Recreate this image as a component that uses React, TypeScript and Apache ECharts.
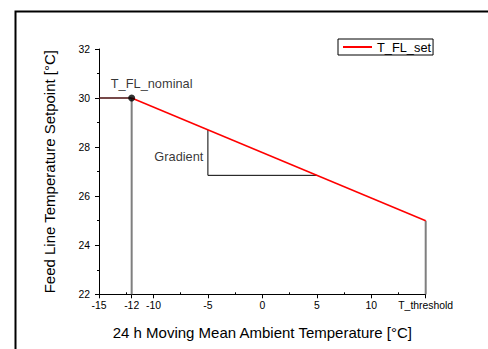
import React, { useEffect, useRef } from "react";
import * as echarts from "echarts";

// Heating curve: feed line setpoint versus 24 h moving mean ambient temperature
const xMajorTicks = [-15, -12, -10, -5, 0, 5, 10, 15];
const xMinorTicks = [-12.5, -7.5, -2.5, 2.5, 7.5, 12.5];
const T_THRESHOLD = 15;

const setpointCurve: [number, number][] = [
  [-12, 30],
  [15, 25],
];
const nominalPlateau: [number, number][] = [
  [-15, 30],
  [-12, 30],
];
const nominalDrop: [number, number][] = [
  [-12, 30],
  [-12, 22],
];
const thresholdDrop: [number, number][] = [
  [15, 25],
  [15, 22],
];
const gradientTriangle: [number, number][] = [
  [-5, 28.7],
  [-5, 26.85],
  [5, 26.85],
];
const nominalPoint: [number, number][] = [[-12, 30]];
const gradientLabelAnchor: [number, number][] = [[-5, 27.62]];

const FONT = "'Liberation Sans', Arial, sans-serif";

export default function App() {
  const ref = useRef<HTMLDivElement>(null);

  useEffect(() => {
    if (!ref.current) return;
    const chart = echarts.init(ref.current, undefined, { renderer: "svg" });

    chart.setOption({
      animation: false,
      backgroundColor: "#fff",
      textStyle: { fontFamily: FONT },
      grid: { left: 99, right: 62.3, top: 49, bottom: 54.7, containLabel: false },
      legend: {
        data: ["T_FL_set"],
        left: 338,
        top: 39,
        orient: "horizontal",
        icon: "rect",
        itemWidth: 29,
        itemHeight: 2,
        padding: [1, 2, 1, 5],
        borderColor: "#000",
        borderWidth: 1,
        borderRadius: 0,
        textStyle: { fontSize: 12.8, color: "#000", fontFamily: FONT, lineHeight: 14 },
      },
      graphic: [
        {
          type: "rect",
          left: 13,
          top: 9,
          shape: { width: 520, height: 400 },
          style: { fill: "none", stroke: "#000", lineWidth: 2 },
          silent: true,
        },
      ],
      xAxis: [
        {
          type: "value",
          min: -15,
          max: 15,
          interval: 5,
          name: "24 h Moving Mean Ambient Temperature [°C]",
          nameLocation: "middle",
          nameGap: 31,
          nameTextStyle: { fontSize: 15, color: "#000", fontFamily: FONT },
          splitLine: { show: false },
          axisLine: { show: true, onZero: false, lineStyle: { color: "#000", width: 1 } },
          axisTick: {
            show: true,
            length: 4,
            customValues: xMajorTicks,
            lineStyle: { color: "#000", width: 1 },
          },
          axisLabel: {
            show: true,
            customValues: xMajorTicks,
            hideOverlap: false,
            margin: 6.5,
            fontSize: 10.4,
            color: "#000",
            fontFamily: FONT,
            formatter: (v: number) => (v === T_THRESHOLD ? "T_threshold" : String(v)),
          },
        },
        {
          type: "value",
          min: -15,
          max: 15,
          interval: 2.5,
          position: "bottom",
          splitLine: { show: false },
          axisLine: { show: false },
          axisLabel: { show: false },
          axisTick: {
            show: true,
            inside: true,
            length: 2,
            customValues: xMinorTicks,
            lineStyle: { color: "#000", width: 1 },
          },
        },
      ],
      yAxis: {
        type: "value",
        min: 22,
        max: 32,
        interval: 2,
        name: "Feed Line Temperature Setpoint [°C]",
        nameLocation: "middle",
        nameGap: 42,
        nameTextStyle: { fontSize: 15, color: "#000", fontFamily: FONT },
        splitLine: { show: false },
        axisLine: { show: true, onZero: false, lineStyle: { color: "#000", width: 1 } },
        axisTick: { show: true, length: 4, lineStyle: { color: "#000", width: 1 } },
        minorTick: { show: true, splitNumber: 2, length: 2, lineStyle: { color: "#000", width: 1 } },
        axisLabel: { margin: 9, fontSize: 10.4, color: "#000", fontFamily: FONT },
      },
      series: [
        {
          name: "nominal drop",
          type: "line",
          data: nominalDrop,
          showSymbol: false,
          lineStyle: { color: "#7f7f7f", width: 2 },
          z: 1,
        },
        {
          name: "threshold drop",
          type: "line",
          data: thresholdDrop,
          showSymbol: false,
          lineStyle: { color: "#7f7f7f", width: 2 },
          z: 1,
        },
        {
          name: "gradient",
          type: "line",
          data: gradientTriangle,
          showSymbol: false,
          lineStyle: { color: "#000", width: 1 },
          z: 2,
        },
        {
          name: "T_FL_set",
          type: "line",
          data: setpointCurve,
          showSymbol: false,
          itemStyle: { color: "#ff0000" },
          lineStyle: { color: "#ff0000", width: 1.5 },
          z: 3,
        },
        {
          name: "nominal plateau",
          type: "line",
          data: nominalPlateau,
          showSymbol: false,
          lineStyle: { color: "#4a0c0c", width: 1.5 },
          z: 3,
        },
        {
          name: "nominal point",
          type: "scatter",
          data: nominalPoint,
          symbol: "circle",
          symbolSize: 7,
          itemStyle: { color: "#000" },
          label: {
            show: true,
            position: "top",
            distance: 5,
            offset: [20, 0],
            formatter: "T_FL_nominal",
            fontSize: 12.8,
            color: "#000",
            fontFamily: FONT,
          },
          z: 5,
        },
        {
          name: "gradient label",
          type: "scatter",
          data: gradientLabelAnchor,
          symbolSize: 1,
          itemStyle: { color: "transparent" },
          label: {
            show: true,
            position: "left",
            distance: 4,
            formatter: "Gradient",
            fontSize: 12.8,
            color: "#000",
            fontFamily: FONT,
          },
          z: 5,
        },
      ],
    });

    return () => chart.dispose();
  }, []);

  return (
    <div
      ref={ref}
      style={{ position: "fixed", left: 0, top: 0, width: 488, height: 349 }}
    />
  );
}
